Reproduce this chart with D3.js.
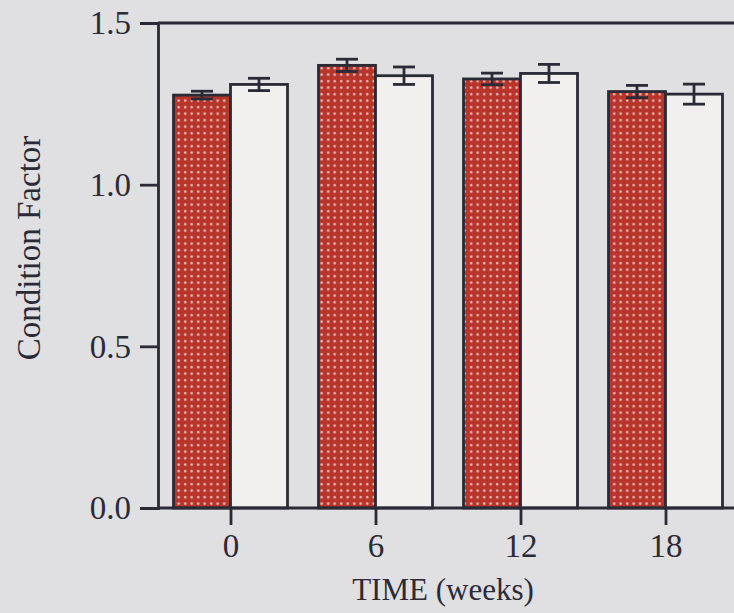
<!DOCTYPE html>
<html><head><meta charset="utf-8">
<script src="https://cdn.jsdelivr.net/npm/d3@7"></script>
<style>body{margin:0;background:#e0dfe2;}svg{display:block;}</style>
</head><body>
<script>
const weeks = [0, 6, 12, 18];
const tickLabels = ["0", "6", "12", "18"];
const yTicks = [0.0, 0.5, 1.0, 1.5];
const redValues = [1.277, 1.369, 1.327, 1.288];
const redErrors = [0.012, 0.019, 0.018, 0.019];
const whiteValues = [1.310, 1.337, 1.344, 1.280];
const whiteErrors = [0.019, 0.027, 0.028, 0.031];

const W = 734, H = 613;
const ink = "#2b2b38";
const font = "'Liberation Serif', 'Times New Roman', serif";
const svg = d3.select("body").append("svg").attr("width", W).attr("height", H);

const defs = svg.append("defs");
const pat = defs.append("pattern").attr("id", "dots").attr("patternUnits", "userSpaceOnUse")
  .attr("width", 6.5).attr("height", 6.5);
pat.append("rect").attr("width", 6.5).attr("height", 6.5).attr("fill", "#b7352b");
pat.append("circle").attr("cx", 3.2).attr("cy", 3.2).attr("r", 1.25).attr("fill", "#f2c4bd");

const x = d3.scaleLinear().domain([-3, 21]).range([158, 738]);
const y = d3.scaleLinear().domain([0, 1.5]).range([508, 23]);
const barW = 57;

const g = svg.append("g");

const red = weeks.map((w, i) => ({w, v: redValues[i], e: redErrors[i], side: -1}));
const white = weeks.map((w, i) => ({w, v: whiteValues[i], e: whiteErrors[i], side: 1}));
const all = red.concat(white);

g.selectAll("rect.bar").data(all).enter().append("rect")
  .attr("x", d => d.side < 0 ? x(d.w) - barW : x(d.w))
  .attr("y", d => y(d.v))
  .attr("width", barW)
  .attr("height", d => y(0) - y(d.v))
  .attr("fill", d => d.side < 0 ? "url(#dots)" : "#f1f0ee")
  .attr("stroke", ink).attr("stroke-width", 2.8);

const eb = g.selectAll("g.err").data(all).enter().append("g")
  .attr("transform", d => `translate(${(d.side < 0 ? x(d.w) - barW / 2 : x(d.w) + barW / 2)},0)`);
eb.append("line").attr("y1", d => y(d.v + d.e)).attr("y2", d => y(d.v - d.e))
  .attr("stroke", ink).attr("stroke-width", 2.8);
eb.append("line").attr("x1", -11).attr("x2", 11).attr("y1", d => y(d.v + d.e)).attr("y2", d => y(d.v + d.e))
  .attr("stroke", ink).attr("stroke-width", 2.8);
eb.append("line").attr("x1", -11).attr("x2", 11).attr("y1", d => y(d.v - d.e)).attr("y2", d => y(d.v - d.e))
  .attr("stroke", ink).attr("stroke-width", 2.8);

g.append("line").attr("x1", x(-3)).attr("x2", W).attr("y1", y(1.5)).attr("y2", y(1.5))
  .attr("stroke", ink).attr("stroke-width", 2.8);

const yAxis = svg.append("g").attr("transform", `translate(${x(-3)},0)`)
  .call(d3.axisLeft(y).tickValues(yTicks).tickFormat(d3.format(".1f")).tickSize(18).tickPadding(9));
const xAxis = svg.append("g").attr("transform", `translate(0,${y(0)})`)
  .call(d3.axisBottom(x).tickValues(weeks).tickFormat((d, i) => tickLabels[i]).tickSize(17).tickPadding(10));
[yAxis, xAxis].forEach(a => {
  a.select(".domain").attr("stroke", ink).attr("stroke-width", 2.8);
  a.selectAll(".tick line").attr("stroke", ink).attr("stroke-width", 2.8);
  a.selectAll("text").attr("fill", ink).style("font-family", font).style("font-size", "33px");
});
xAxis.select(".domain").attr("d", `M${x(-3)},0H${W}`);
yAxis.selectAll(".tick text").attr("dy", "0.33em");
xAxis.selectAll(".tick text").attr("dy", "0.68em");

svg.append("text").attr("x", 443).attr("y", 600).attr("text-anchor", "middle")
  .attr("fill", ink).style("font-family", font).style("font-size", "31px")
  .text("TIME (weeks)");
svg.append("text").attr("transform", "translate(40,248) rotate(-90)").attr("text-anchor", "middle")
  .attr("fill", ink).style("font-family", font).style("font-size", "33px")
  .text("Condition Factor");
</script>
</body></html>
